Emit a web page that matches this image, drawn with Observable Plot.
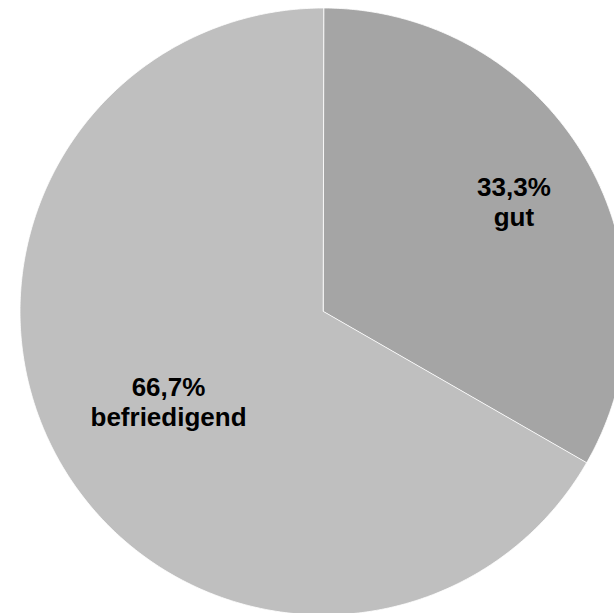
<!DOCTYPE html>
<html>
<head>
<meta charset="utf-8">
<script src="https://cdn.jsdelivr.net/npm/d3@7"></script>
<script src="https://cdn.jsdelivr.net/npm/@observablehq/plot@0.6"></script>
<style>
  html, body { margin: 0; padding: 0; background: #fff; }
  #chart { width: 614px; height: 613px; }
  svg { display: block; }
</style>
</head>
<body>
<div id="chart"></div>
<script>
// ---- data ----
const categories = ["gut", "befriedigend"];
const shares = [33.3, 66.7];
const colors = ["#a5a5a5", "#bfbfbf"];

// ---- layout ----
const W = 614, H = 613;
const cx = 323, cy = 311, R = 303.5;
const labelFactor = {"gut": 0.725, "befriedigend": 0.59};

const pie = d3.pie().sort(null).value(d => d.value);
const table = categories.map((c, i) => ({category: c, value: shares[i], color: colors[i]}));
const arcs = pie(table);
const total = d3.sum(shares);

const px = (a, r) => cx + r * Math.sin(a);
const py = (a, r) => cy - r * Math.cos(a);

// polygon outline for each slice (geometry of the arc)
const outline = [];
for (const a of arcs) {
  outline.push({category: a.data.category, x: cx, y: cy});
  const steps = Math.max(8, Math.ceil((a.endAngle - a.startAngle) * 120));
  for (let k = 0; k <= steps; k++) {
    const t = a.startAngle + (a.endAngle - a.startAngle) * k / steps;
    outline.push({category: a.data.category, x: px(t, R), y: py(t, R)});
  }
}

const fmt = v => d3.format(".1%")(v).replace(".", ",");
const labels = arcs.map(a => {
  const mid = (a.startAngle + a.endAngle) / 2;
  const r = R * labelFactor[a.data.category];
  return {x: px(mid, r), y: py(mid, r), text: fmt(a.data.value / total) + "\n" + a.data.category};
});

const chart = Plot.plot({
  width: W,
  height: H,
  margin: 0,
  style: {background: "#fff"},
  x: {domain: [0, W], range: [0, W], axis: null},
  y: {domain: [0, H], range: [0, H], axis: null},
  color: {domain: categories, range: colors},
  marks: [
    Plot.line(outline, {
      x: "x", y: "y", z: "category",
      fill: "category",
      stroke: "#ffffff", strokeWidth: 0.8,
      curve: "linear-closed"
    }),
    Plot.text(labels, {
      x: "x", y: "y", text: "text",
      fontFamily: "Liberation Sans, Arial, sans-serif",
      fontWeight: "bold",
      fontSize: 26,
      lineHeight: 1.15,
      fill: "#000"
    })
  ]
});
document.getElementById("chart").appendChild(chart);
</script>
</body>
</html>
